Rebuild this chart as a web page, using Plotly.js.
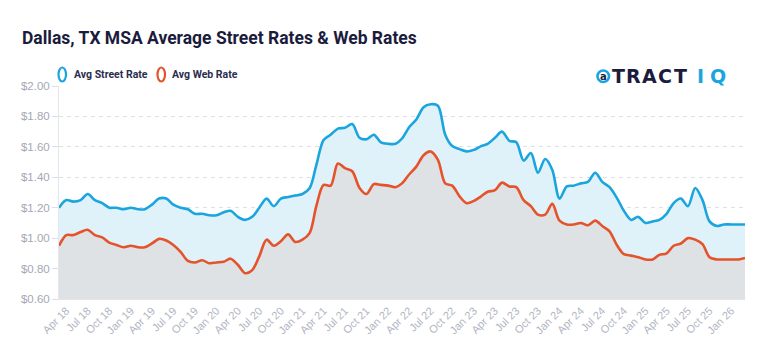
<!DOCTYPE html>
<html>
<head>
<meta charset="utf-8">
<script src="https://cdn.plot.ly/plotly-3.0.1.min.js"></script>
<style>
html,body{margin:0;padding:0;background:#fff;}
#chart{width:768px;height:358px;}
</style>
</head>
<body>
<div id="chart"></div>
<script>
// Monthly periods, Mar 2018 - Mar 2026
var months = [
  '2018-03','2018-04','2018-05','2018-06','2018-07','2018-08','2018-09','2018-10','2018-11','2018-12',
  '2019-01','2019-02','2019-03','2019-04','2019-05','2019-06','2019-07','2019-08','2019-09','2019-10','2019-11','2019-12',
  '2020-01','2020-02','2020-03','2020-04','2020-05','2020-06','2020-07','2020-08','2020-09','2020-10','2020-11','2020-12',
  '2021-01','2021-02','2021-03','2021-04','2021-05','2021-06','2021-07','2021-08','2021-09','2021-10','2021-11','2021-12',
  '2022-01','2022-02','2022-03','2022-04','2022-05','2022-06','2022-07','2022-08','2022-09','2022-10','2022-11','2022-12',
  '2023-01','2023-02','2023-03','2023-04','2023-05','2023-06','2023-07','2023-08','2023-09','2023-10','2023-11','2023-12',
  '2024-01','2024-02','2024-03','2024-04','2024-05','2024-06','2024-07','2024-08','2024-09','2024-10','2024-11','2024-12',
  '2025-01','2025-02','2025-03','2025-04','2025-05','2025-06','2025-07','2025-08','2025-09','2025-10','2025-11','2025-12',
  '2026-01','2026-02','2026-03'
];
var streetRate = [
  1.20,1.25,1.24,1.25,1.29,1.25,1.23,1.20,1.20,1.19,
  1.20,1.19,1.19,1.22,1.26,1.26,1.22,1.20,1.19,1.16,1.16,1.15,
  1.15,1.17,1.18,1.14,1.12,1.14,1.20,1.26,1.21,1.26,1.27,1.28,
  1.29,1.33,1.48,1.645,1.68,1.72,1.725,1.75,1.66,1.65,1.68,1.63,
  1.62,1.62,1.655,1.73,1.78,1.86,1.88,1.87,1.68,1.605,1.585,1.57,
  1.58,1.605,1.62,1.66,1.70,1.64,1.63,1.51,1.56,1.43,1.52,1.45,
  1.26,1.34,1.345,1.36,1.37,1.43,1.37,1.335,1.265,1.18,1.12,1.14,
  1.10,1.11,1.12,1.16,1.23,1.26,1.21,1.33,1.25,1.11,1.08,1.09,
  1.09,1.09,1.09
];
var webRate = [
  0.95,1.02,1.02,1.04,1.055,1.02,1.005,0.97,0.955,0.94,
  0.95,0.94,0.94,0.965,0.995,0.985,0.955,0.91,0.85,0.84,0.855,0.835,
  0.84,0.845,0.865,0.825,0.77,0.79,0.88,0.99,0.95,0.98,1.025,0.975,
  0.99,1.035,1.21,1.35,1.345,1.49,1.46,1.44,1.33,1.29,1.355,1.35,
  1.345,1.335,1.36,1.42,1.47,1.545,1.57,1.515,1.36,1.345,1.275,1.23,
  1.245,1.275,1.305,1.315,1.365,1.34,1.335,1.25,1.21,1.155,1.155,1.225,
  1.115,1.09,1.09,1.10,1.085,1.115,1.08,1.045,0.955,0.895,0.885,0.875,
  0.86,0.86,0.89,0.90,0.95,0.965,1.0,0.99,0.96,0.875,0.86,0.86,
  0.86,0.86,0.87
];
var seriesNames = ['Avg Street Rate', 'Avg Web Rate'];
var yTickVals = [0.6,0.8,1.0,1.2,1.4,1.6,1.8,2.0];
var yTickText = ['$0.60','$0.80','$1.00','$1.20','$1.40','$1.60','$1.80','$2.00'];
var titleText = 'Dallas, TX MSA Average Street Rates & Web Rates';

var W = 768, H = 358;
var M = {l:59, r:23, t:86, b:59};
var PW = W - M.l - M.r, PH = H - M.t - M.b;
function px(x){ return (x - M.l) / PW; }
function py(y){ return (H - M.b - y) / PH; }

var blue = '#1ba5df', red = '#e4532b';

var traces = [
  {x: months, y: streetRate, name: seriesNames[0], type:'scatter', mode:'lines',
   line:{color:blue, width:2.6, shape:'spline', smoothing:0.9},
   fill:'tozeroy', fillcolor:'#dff2f9', hoverinfo:'skip'},
  {x: months, y: webRate, name: seriesNames[1], type:'scatter', mode:'lines',
   line:{color:red, width:2.6, shape:'spline', smoothing:0.9},
   fill:'tozeroy', fillcolor:'#dee2e5', hoverinfo:'skip'}
];

var navy = '#1b1c3d';
var logoLetters = [
  ['T',618,navy],['R',633.5,navy],['A',649,navy],['C',665,navy],['T',680.5,navy],
  ['I',700,blue],['Q',718,blue]
];
var legendFont = {family:'Roboto', size:10.5, color:'#2b2d50'};
var annotations = [
  {xref:'paper', yref:'paper', x:px(72), y:py(74.5), xanchor:'left', yanchor:'middle',
   text:'<b>'+seriesNames[0]+'</b>', showarrow:false, font:legendFont},
  {xref:'paper', yref:'paper', x:px(170), y:py(74.5), xanchor:'left', yanchor:'middle',
   text:'<b>'+seriesNames[1]+'</b>', showarrow:false, font:legendFont},
  {xref:'paper', yref:'paper', x:px(603), y:py(76), xanchor:'center', yanchor:'middle',
   text:'<b>a</b>', showarrow:false, font:{family:'DejaVu Sans', size:10, color:navy}}
];
logoLetters.forEach(function(l){
  annotations.push({xref:'paper', yref:'paper', x:px(l[1]), y:py(75.5), xanchor:'center', yanchor:'middle',
    text:'<b>'+l[0]+'</b>', showarrow:false, font:{family:'DejaVu Sans', size:19, color:l[2]}});
});

var shapes = [
  {type:'circle', xref:'paper', yref:'paper', x0:px(58.5), x1:px(66), y0:py(81.5), y1:py(67.5),
   line:{color:blue, width:2.2}, fillcolor:'rgba(0,0,0,0)'},
  {type:'circle', xref:'paper', yref:'paper', x0:px(157.5), x1:px(165), y0:py(81.5), y1:py(67.5),
   line:{color:red, width:2.2}, fillcolor:'rgba(0,0,0,0)'},
  {type:'circle', xref:'paper', yref:'paper', x0:px(597.5), x1:px(609), y0:py(82), y1:py(70.5),
   line:{color:blue, width:2.6}, fillcolor:'rgba(0,0,0,0)'}
];

var layout = {
  width:W, height:H,
  margin:M,
  paper_bgcolor:'#fff', plot_bgcolor:'#fff',
  showlegend:false,
  title:{text:'<b>'+titleText+'</b>', xref:'container', yref:'container',
    x:22/W, xanchor:'left', y:1-37.5/H, yanchor:'middle',
    font:{family:'Roboto', size:17.5, color:navy}},
  xaxis:{type:'date', range:['2018-03-01','2026-03-01'],
    tick0:'2018-04-01', dtick:'M3', tickformat:'%b %y', tickangle:-45,
    tickfont:{family:'Liberation Sans', size:11, color:'#b1b5c3'},
    showgrid:false, zeroline:false, showline:true, linecolor:'#e3e6ec', linewidth:1,
    ticks:'', fixedrange:true},
  yaxis:{range:[0.6,2.0], tickvals:yTickVals, ticktext:yTickText,
    tickfont:{family:'Liberation Sans', size:11.5, color:'#a3a7b4'},
    showgrid:true, gridcolor:'#dcdfe5', griddash:'4px,4px', gridwidth:1,
    zeroline:false, showline:true, linecolor:'#e3e6ec', linewidth:1,
    ticks:'outside', ticklen:6, tickcolor:'#dcdfe5', fixedrange:true},
  annotations:annotations,
  shapes:shapes
};

Plotly.newPlot('chart', traces, layout, {displayModeBar:false, staticPlot:true});
</script>
</body>
</html>
